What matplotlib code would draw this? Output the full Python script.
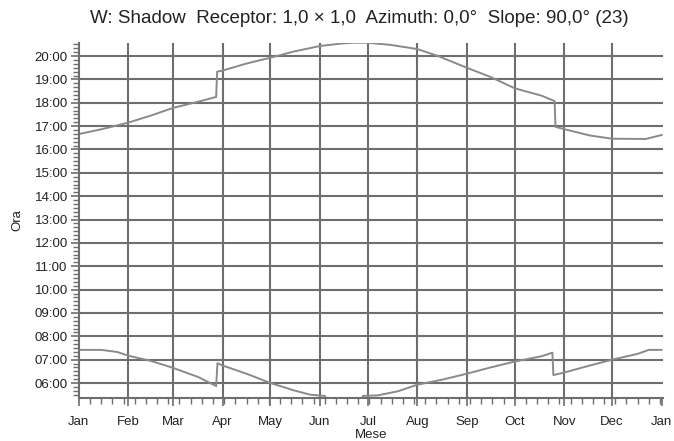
import numpy as np
import matplotlib.pyplot as plt
from matplotlib.ticker import FixedLocator, FuncFormatter, MultipleLocator

plt.rcParams["font.family"] = ["Liberation Sans", "DejaVu Sans"]

# month starts (day of year) and labels
month_days = [0, 31, 59, 90, 120, 151, 181, 212, 243, 273, 304, 334, 365]
month_labels = ["Jan", "Feb", "Mar", "Apr", "May", "Jun", "Jul",
                "Aug", "Sep", "Oct", "Nov", "Dec", "Jan"]

# evening shadow limit (hours)
eve_day = [0, 15, 31, 45, 59, 75, 86, 86.6, 90, 105, 120, 135, 151, 165,
           172, 181, 195, 212, 225, 243, 258, 273, 290, 298, 298.5, 304,
           320, 334, 355, 365]
eve_hour = [16.66, 16.88, 17.15, 17.45, 17.78, 18.05, 18.25, 19.33, 19.38,
            19.68, 19.93, 20.2, 20.43, 20.54, 20.57, 20.57, 20.48, 20.3,
            20.0, 19.5, 19.1, 18.62, 18.3, 18.07, 16.97, 16.87, 16.6,
            16.46, 16.45, 16.62]

# morning shadow limit (hours)
morn_day = [0, 14, 24, 31, 45, 59, 75, 86, 86.8, 90, 105, 120, 135, 145,
            154, 156, 176, 178, 187, 200, 212, 228, 243, 258, 273, 290,
            296.6, 297.2, 304, 320, 334, 350, 357, 365]
morn_hour = [7.42, 7.42, 7.33, 7.17, 6.95, 6.65, 6.25, 5.87, 6.85, 6.75,
             6.4, 6.0, 5.68, 5.5, 5.45, 5.2, 5.2, 5.45, 5.47, 5.65, 5.93,
             6.15, 6.4, 6.67, 6.92, 7.15, 7.3, 6.34, 6.45, 6.75, 7.0,
             7.25, 7.42, 7.42]

line_col = "#8a8a8a"
grid_col = "#6e6e6e"
text_col = "#222222"

fig = plt.figure(figsize=(6.74, 4.41), dpi=100)
ax = fig.add_axes([0.117, 0.0986, 0.867, 0.805])

ax.plot(eve_day, eve_hour, color=line_col, lw=1.4)
ax.plot(morn_day, morn_hour, color=line_col, lw=1.4)

ax.set_xlim(0, 366)
ax.set_ylim(5.38, 20.58)

ax.xaxis.set_major_locator(FixedLocator(month_days))
ax.set_xticklabels(month_labels)
ax.xaxis.set_minor_locator(MultipleLocator(7))
ax.yaxis.set_major_locator(FixedLocator(range(6, 21)))
ax.yaxis.set_major_formatter(FuncFormatter(lambda v, p: f"{int(round(v)):02d}:00"))
ax.yaxis.set_minor_locator(MultipleLocator(1 / 6))

ax.grid(True, which="major", color=grid_col, lw=1.5)
ax.xaxis.get_gridlines()[0].set_visible(False)
ax.xaxis.get_gridlines()[-1].set_visible(False)

for s in ["top", "right"]:
    ax.spines[s].set_visible(False)
for s in ["left", "bottom"]:
    ax.spines[s].set_color(grid_col)
    ax.spines[s].set_linewidth(1.5)

ax.tick_params(which="major", length=6, width=1.2, color=grid_col,
               labelsize=9.5, labelcolor=text_col, pad=2)
ax.tick_params(axis="x", which="major", pad=7)
ax.tick_params(which="minor", length=4, width=1, color=grid_col)

ax.set_xlabel("Mese", fontsize=9.5, color=text_col, labelpad=1)
ax.set_ylabel("Ora", fontsize=9.5, color=text_col, labelpad=8)

fig.text(0.533, 0.959,
         "W: Shadow  Receptor: 1,0 × 1,0  Azimuth: 0,0°  Slope: 90,0° (23)",
         ha="center", va="center", fontsize=13.5, color=text_col)

fig.savefig("out.png", dpi=100)
